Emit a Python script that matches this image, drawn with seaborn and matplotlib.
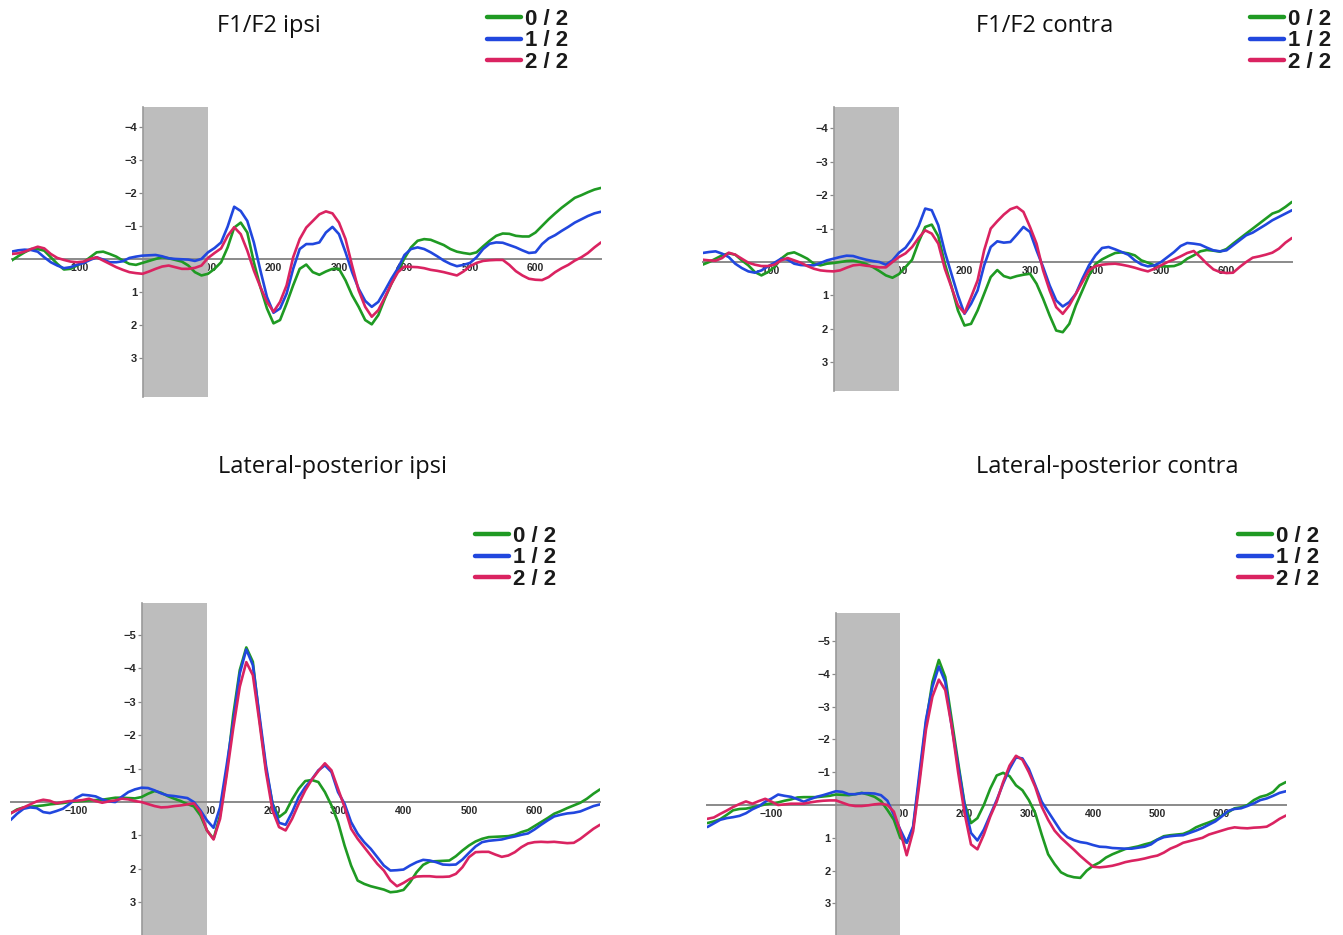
import numpy as np
import pandas as pd
import matplotlib
matplotlib.use("Agg")
import matplotlib.pyplot as plt
from matplotlib.lines import Line2D
import seaborn as sns

# ---------------- data ----------------
time_ms = np.arange(-200, 701, 10)
conditions = ["0 / 2", "1 / 2", "2 / 2"]
titles = ["F1/F2 ipsi", "F1/F2 contra", "Lateral-posterior ipsi", "Lateral-posterior contra"]
x_ticks = [-100, 100, 200, 300, 400, 500, 600]
y_ticks_top = [-4, -3, -2, -1, 1, 2, 3]
y_ticks_bottom = [-5, -4, -3, -2, -1, 1, 2, 3]

f1f2_ipsi_02 = [
    0.05, -0.08, -0.2, -0.3, -0.3, -0.25, -0.05, 0.15, 0.32, 0.3,
    0.2, 0.1, -0.05, -0.2, -0.22, -0.15, -0.07, 0.05, 0.15, 0.18,
    0.12, 0.06, 0.0, -0.05, -0.02, 0.03, 0.08, 0.2, 0.4, 0.5,
    0.45, 0.3, 0.1, -0.35, -0.95, -1.1, -0.8, 0.1, 0.85, 1.5,
    1.95, 1.85, 1.35, 0.8, 0.3, 0.17, 0.4, 0.48, 0.38, 0.3,
    0.3, 0.65, 1.1, 1.45, 1.85, 1.98, 1.7, 1.2, 0.75, 0.35,
    -0.02, -0.35, -0.55, -0.6, -0.58, -0.5, -0.42, -0.3, -0.22, -0.18,
    -0.15, -0.2, -0.38, -0.55, -0.7, -0.77, -0.76, -0.7, -0.68, -0.68,
    -0.8, -1.0, -1.2, -1.38, -1.55, -1.7, -1.85, -1.93, -2.02, -2.1,
    -2.15]
f1f2_ipsi_12 = [
    -0.22, -0.26, -0.28, -0.27, -0.22, -0.05, 0.1, 0.2, 0.28, 0.25,
    0.18, 0.12, 0.03, -0.05, 0.02, 0.1, 0.1, 0.07, -0.03, -0.07,
    -0.1, -0.11, -0.12, -0.08, -0.02, 0.0, 0.01, 0.02, 0.06, 0.0,
    -0.2, -0.33, -0.5, -0.98, -1.58, -1.45, -1.15, -0.5, 0.35, 1.15,
    1.63, 1.5, 1.05, 0.3, -0.3, -0.45, -0.45, -0.5, -0.8, -0.97,
    -0.75, -0.2, 0.4, 0.9, 1.27, 1.45, 1.3, 0.96, 0.6, 0.28,
    -0.12, -0.3, -0.35, -0.3, -0.2, -0.08, 0.05, 0.15, 0.22, 0.18,
    0.12, -0.05, -0.3, -0.46, -0.5, -0.49, -0.42, -0.35, -0.26, -0.18,
    -0.2, -0.45, -0.62, -0.72, -0.85, -0.97, -1.1, -1.2, -1.3, -1.38,
    -1.43]
f1f2_ipsi_22 = [
    -0.15, -0.17, -0.22, -0.3, -0.37, -0.32, -0.15, -0.03, 0.03, 0.08,
    0.1, 0.08, 0.0, -0.05, 0.05, 0.15, 0.25, 0.33, 0.4, 0.43,
    0.45, 0.38, 0.3, 0.23, 0.2, 0.25, 0.3, 0.3, 0.27, 0.2,
    -0.03, -0.18, -0.32, -0.7, -0.96, -0.75, -0.25, 0.35, 0.85, 1.3,
    1.6, 1.3, 0.8, -0.05, -0.6, -0.95, -1.15, -1.35, -1.44, -1.38,
    -1.1, -0.6, 0.2, 0.95, 1.45, 1.75, 1.55, 1.16, 0.75, 0.4,
    0.23, 0.24, 0.25, 0.28, 0.33, 0.36, 0.4, 0.45, 0.5, 0.38,
    0.22, 0.12, 0.06, 0.04, 0.03, 0.03, 0.18, 0.37, 0.5, 0.6,
    0.63, 0.64, 0.55, 0.4, 0.28, 0.18, 0.05, -0.05, -0.18, -0.35,
    -0.5]

f1f2_contra_02 = [
    0.08, 0.0, -0.1, -0.2, -0.26, -0.22, -0.05, 0.1, 0.3, 0.4,
    0.3, 0.15, -0.1, -0.25, -0.29, -0.2, -0.1, 0.05, 0.1, 0.05,
    0.03, 0.0, -0.03, -0.04, 0.0, 0.06, 0.15, 0.27, 0.4, 0.47,
    0.36, 0.15, -0.07, -0.6, -1.05, -1.12, -0.77, 0.05, 0.72, 1.45,
    1.9, 1.85, 1.45, 0.95, 0.45, 0.24, 0.42, 0.48, 0.42, 0.38,
    0.35, 0.65, 1.1, 1.6, 2.05, 2.1, 1.85, 1.3, 0.85, 0.4,
    0.06, -0.08, -0.18, -0.27, -0.29, -0.26, -0.2, -0.05, 0.02, 0.1,
    0.13, 0.13, 0.12, 0.05, -0.1, -0.2, -0.32, -0.36, -0.34, -0.31,
    -0.39, -0.55, -0.7, -0.85, -1.0, -1.15, -1.3, -1.45, -1.52, -1.65,
    -1.8]
f1f2_contra_12 = [
    -0.27, -0.3, -0.32, -0.25, -0.15, 0.05, 0.18, 0.28, 0.32, 0.25,
    0.13, 0.02, -0.1, -0.07, 0.05, 0.09, 0.1, 0.1, 0.03, -0.05,
    -0.1, -0.15, -0.19, -0.18, -0.12, -0.07, -0.03, 0.0, 0.08, -0.05,
    -0.28, -0.43, -0.7, -1.08, -1.6, -1.55, -1.1, -0.3, 0.35, 1.0,
    1.55, 1.25, 0.85, 0.1, -0.45, -0.62, -0.58, -0.6, -0.82, -1.05,
    -0.9, -0.35, 0.15, 0.7, 1.15, 1.33, 1.2, 0.95, 0.5, 0.1,
    -0.2, -0.42, -0.45, -0.38, -0.3, -0.22, -0.05, 0.07, 0.13, 0.1,
    0.0, -0.15, -0.3, -0.48, -0.57, -0.55, -0.52, -0.43, -0.35, -0.32,
    -0.35, -0.5, -0.65, -0.8, -0.88, -1.0, -1.12, -1.25, -1.35, -1.45,
    -1.55]
f1f2_contra_22 = [
    -0.07, -0.05, -0.04, -0.12, -0.28, -0.22, -0.1, 0.02, 0.08, 0.12,
    0.12, 0.08, -0.05, -0.12, -0.05, 0.02, 0.12, 0.2, 0.25, 0.27,
    0.28, 0.25, 0.17, 0.1, 0.08, 0.11, 0.13, 0.16, 0.16, 0.0,
    -0.15, -0.26, -0.45, -0.72, -0.95, -0.85, -0.55, 0.2, 0.75, 1.3,
    1.53, 1.05, 0.55, -0.35, -1.0, -1.22, -1.42, -1.58, -1.65, -1.5,
    -1.05, -0.55, 0.25, 0.85, 1.35, 1.55, 1.3, 0.95, 0.6, 0.25,
    0.12, 0.08, 0.06, 0.05, 0.08, 0.12, 0.17, 0.23, 0.28, 0.2,
    0.1, 0.0, -0.08, -0.17, -0.27, -0.33, -0.15, 0.05, 0.22, 0.3,
    0.33, 0.32, 0.15, 0.0, -0.13, -0.17, -0.22, -0.28, -0.4, -0.58,
    -0.72]

latpost_ipsi_02 = [
    0.34, 0.22, 0.16, 0.14, 0.12, 0.1, 0.07, 0.05, 0.03, 0.0,
    -0.02, -0.03, -0.05, -0.06, -0.07, -0.1, -0.13, -0.13, -0.12, -0.11,
    -0.15, -0.25, -0.33, -0.28, -0.18, -0.1, -0.03, 0.06, 0.13, 0.4,
    0.85, 1.1, 0.4, -0.9, -2.6, -3.95, -4.63, -4.2, -2.5, -1.0,
    0.05, 0.45, 0.3, -0.08, -0.4, -0.63, -0.66, -0.6, -0.3, 0.1,
    0.6, 1.3, 1.9, 2.35, 2.45, 2.52, 2.57, 2.62, 2.7, 2.68,
    2.63, 2.4, 2.1, 1.88, 1.78, 1.77, 1.76, 1.75, 1.62, 1.45,
    1.3, 1.18, 1.1, 1.05, 1.04, 1.03, 1.02, 0.98, 0.9, 0.84,
    0.72, 0.6, 0.48, 0.35, 0.27, 0.18, 0.1, 0.02, -0.1, -0.25,
    -0.38]
latpost_ipsi_12 = [
    0.54, 0.35, 0.2, 0.16, 0.18, 0.3, 0.33, 0.27, 0.2, 0.06,
    -0.12, -0.22, -0.2, -0.17, -0.08, -0.02, 0.0, -0.16, -0.3, -0.38,
    -0.43, -0.42, -0.35, -0.26, -0.2, -0.18, -0.15, -0.12, 0.0, 0.25,
    0.55, 0.77, 0.15, -1.1, -2.4, -3.85, -4.57, -4.1, -2.6, -1.1,
    0.05, 0.62, 0.68, 0.3, -0.15, -0.45, -0.68, -0.95, -1.1, -0.9,
    -0.3, 0.05, 0.6, 0.95, 1.2, 1.4, 1.65, 1.9, 2.05, 2.04,
    2.02, 1.9, 1.8, 1.73, 1.75, 1.8, 1.87, 1.88, 1.87, 1.72,
    1.52, 1.33, 1.2, 1.16, 1.14, 1.12, 1.07, 1.03, 0.98, 0.94,
    0.82, 0.68, 0.55, 0.43, 0.38, 0.34, 0.32, 0.28, 0.2, 0.12,
    0.07]
latpost_ipsi_22 = [
    0.34, 0.24, 0.16, 0.07, -0.02, -0.07, -0.04, 0.04, 0.0, -0.03,
    -0.04, -0.06, -0.1, -0.03, 0.02, -0.02, -0.05, -0.1, -0.08, -0.03,
    0.0, 0.06, 0.12, 0.16, 0.15, 0.12, 0.1, 0.07, 0.04, 0.3,
    0.85, 1.12, 0.5, -0.8, -2.2, -3.45, -4.19, -3.8, -2.4, -0.9,
    0.25, 0.75, 0.85, 0.5, 0.05, -0.35, -0.67, -0.93, -1.16, -0.95,
    -0.4, 0.15, 0.8, 1.1, 1.35, 1.6, 1.85, 2.05, 2.35, 2.52,
    2.42, 2.3, 2.23, 2.22, 2.22, 2.24, 2.24, 2.23, 2.15, 1.95,
    1.65, 1.5, 1.49, 1.49, 1.57, 1.64, 1.6, 1.5, 1.35, 1.24,
    1.2, 1.19, 1.2, 1.19, 1.21, 1.23, 1.22, 1.1, 0.95, 0.8,
    0.68]

latpost_contra_02 = [
    0.55, 0.5, 0.43, 0.3, 0.16, 0.12, 0.11, 0.07, 0.03, -0.02,
    -0.05, -0.08, -0.13, -0.17, -0.23, -0.24, -0.24, -0.24, -0.26, -0.28,
    -0.32, -0.31, -0.3, -0.33, -0.37, -0.32, -0.25, -0.12, 0.15, 0.45,
    1.0, 1.15, 0.7, -0.85, -2.5, -3.75, -4.42, -3.9, -2.6, -1.3,
    -0.05, 0.55, 0.4, 0.0, -0.5, -0.9, -0.98, -0.88, -0.6, -0.45,
    -0.15, 0.25, 0.9, 1.5, 1.8, 2.05, 2.15, 2.2, 2.22, 2.0,
    1.85, 1.75, 1.6, 1.5, 1.42, 1.34, 1.3, 1.26, 1.2, 1.15,
    1.05, 0.95, 0.92, 0.9, 0.88, 0.8, 0.68, 0.6, 0.53, 0.45,
    0.32, 0.22, 0.1, 0.07, 0.0, -0.15, -0.25, -0.3, -0.4, -0.6,
    -0.7]
latpost_contra_12 = [
    0.67, 0.56, 0.45, 0.4, 0.37, 0.33, 0.25, 0.13, 0.04, -0.1,
    -0.2, -0.32, -0.28, -0.25, -0.18, -0.1, -0.18, -0.25, -0.3, -0.36,
    -0.42, -0.4, -0.33, -0.33, -0.36, -0.36, -0.35, -0.3, -0.13, 0.3,
    0.75, 1.15, 0.65, -1.0, -2.6, -3.6, -4.22, -3.75, -2.4, -1.2,
    0.0, 0.85, 1.08, 0.75, 0.3, -0.15, -0.65, -1.1, -1.45, -1.42,
    -1.1, -0.6, -0.1, 0.2, 0.5, 0.8, 0.98, 1.07, 1.13, 1.16,
    1.22, 1.27, 1.28, 1.31, 1.32, 1.33, 1.33, 1.3, 1.27, 1.2,
    1.06, 0.98, 0.95, 0.93, 0.92, 0.85, 0.78, 0.7, 0.6, 0.5,
    0.35, 0.18, 0.12, 0.1, 0.03, -0.05, -0.15, -0.2, -0.28, -0.37,
    -0.42]
latpost_contra_22 = [
    0.42, 0.38, 0.27, 0.17, 0.06, -0.03, -0.11, -0.04, -0.12, -0.19,
    -0.1, 0.0, -0.02, -0.04, -0.04, -0.04, -0.08, -0.11, -0.13, -0.14,
    -0.14, -0.07, 0.0, 0.03, 0.03, 0.01, -0.02, -0.04, 0.0, 0.2,
    0.8, 1.53, 0.8, -0.7, -2.3, -3.3, -3.82, -3.5, -2.4, -1.0,
    0.25, 1.2, 1.35, 0.9, 0.35, -0.1, -0.7, -1.2, -1.5, -1.38,
    -1.0, -0.55, 0.05, 0.45, 0.78, 1.0, 1.18, 1.36, 1.55, 1.72,
    1.88, 1.9, 1.88, 1.85, 1.8, 1.74, 1.7, 1.67, 1.63, 1.58,
    1.54, 1.45, 1.33, 1.25, 1.15, 1.1, 1.05, 1.0, 0.9, 0.84,
    0.78, 0.72, 0.68, 0.7, 0.71, 0.69, 0.68, 0.66, 0.55, 0.42,
    0.32]

panel_series = [
    [f1f2_ipsi_02, f1f2_ipsi_12, f1f2_ipsi_22],
    [f1f2_contra_02, f1f2_contra_12, f1f2_contra_22],
    [latpost_ipsi_02, latpost_ipsi_12, latpost_ipsi_22],
    [latpost_contra_02, latpost_contra_12, latpost_contra_22],
]

# ---------------- style ----------------
sns.set_theme(style="white")
plt.rcParams["font.family"] = ["Liberation Sans", "DejaVu Sans"]

palette = {"0 / 2": "#1F9A23", "1 / 2": "#2147DE", "2 / 2": "#DA2361"}

W, H = 1343, 935
fig = plt.figure(figsize=(W / 100, H / 100), dpi=100)
fig.patch.set_facecolor("white")

# pixel boxes: left, right, top, bottom ; y limits (bottom value, top value)
boxes = [
    (11.5, 601.0, 107, 397, (4.18, -4.60), y_ticks_top),
    (702.5, 1292.0, 107, 391, (3.86, -4.64), y_ticks_top),
    (10.5, 600.0, 603, 935, (3.98, -5.96), y_ticks_bottom),
    (707.4, 1286.0, 613, 935, (3.96, -5.85), y_ticks_bottom),
]
title_pos = [(269, 26), (1045, 26), (332, 467), (1107, 467)]
legend_pos = [(487, 9), (1250, 9), (475, 526), (1238, 526)]


def fmt(v):
    return f"{v:g}".replace("-", "\u2212")


for k, (l, r, t, b, ylim, yt) in enumerate(boxes):
    ax = fig.add_axes([l / W, 1 - b / H, (r - l) / W, (b - t) / H])
    ax.set_facecolor("none")
    rows = []
    for cond, vals in zip(conditions, panel_series[k]):
        assert len(vals) == len(time_ms)
        rows.append(pd.DataFrame({"time": time_ms, "amp": vals, "cond": cond}))
    df = pd.concat(rows, ignore_index=True)

    ax.axvspan(0, 100, color="#BDBDBD", zorder=0.6, lw=0)
    sns.lineplot(data=df, x="time", y="amp", hue="cond", palette=palette,
                 hue_order=conditions, estimator=None, sort=False,
                 legend=False, lw=1.9, ax=ax, zorder=3)

    ax.set_xlim(-200, 700)
    ax.set_ylim(*ylim)
    ax.set_xlabel("")
    ax.set_ylabel("")

    for s in ["top", "right"]:
        ax.spines[s].set_visible(False)
    ax.spines["bottom"].set_position(("data", 0))
    ax.spines["left"].set_position(("data", 0))
    ax.spines["bottom"].set_color("#8A8A8A")
    ax.spines["bottom"].set_linewidth(1.4)
    ax.spines["left"].set_color("#9A9A9A")
    ax.spines["left"].set_linewidth(1.2)
    ax.spines["bottom"].set_zorder(2.6)

    ax.set_xticks(x_ticks)
    ax.set_xticklabels([fmt(v) for v in x_ticks])
    ax.set_yticks(yt)
    ax.set_yticklabels([fmt(v) for v in yt])
    ax.tick_params(axis="x", length=0, pad=3, labelsize=7.5, labelcolor="#2A2A2A")
    ax.tick_params(axis="y", length=3, width=0.9, color="#8A8A8A", direction="out",
                   pad=1, labelsize=8, labelcolor="#2A2A2A", left=True)
    for lab in ax.get_xticklabels() + ax.get_yticklabels():
        lab.set_fontweight("bold")
    ax.set_axisbelow(True)

    tx, ty = title_pos[k]
    fig.text(tx / W, 1 - ty / H, titles[k], ha="center", va="center",
             fontsize=17, family=["Open Sans", "DejaVu Sans"], color="#111111")

    handles = [Line2D([0], [0], color=palette[c], lw=3.2) for c in conditions]
    lx, ly = legend_pos[k]
    fig.legend(handles, conditions, loc="upper left",
               bbox_to_anchor=(lx / W, 1 - ly / H), bbox_transform=fig.transFigure,
               frameon=False, prop={"weight": "bold", "size": 16},
               handlelength=1.55, handletextpad=0.15, labelspacing=0.02,
               borderpad=0, borderaxespad=0, labelcolor="#1A1A1A")

fig.savefig("out.png", dpi=100, facecolor="white")
